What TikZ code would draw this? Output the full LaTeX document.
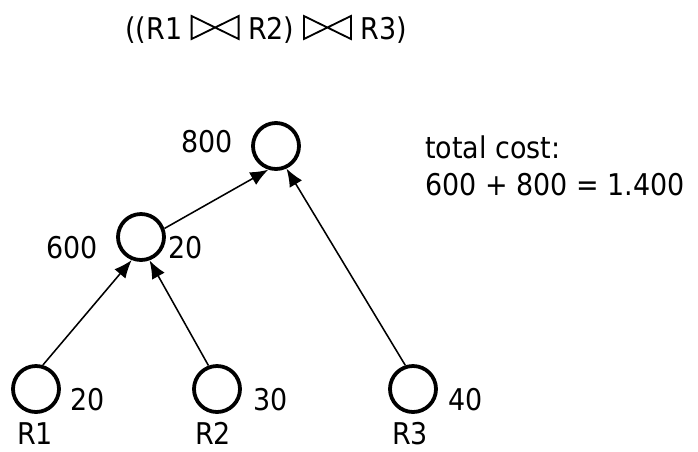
\documentclass[tikz,border=0pt]{standalone}
\usepackage{fontspec}
\setmainfont{DejaVu Sans Condensed}
\usetikzlibrary{arrows.meta}

% join symbol drawn as a small picture
\newcommand{\joinop}{\tikz[baseline=0pt, line width=1.3pt]\draw (0,0) -- (0,0.575) -- (1.175,0) -- (1.175,0.575) -- cycle;}

\begin{document}
\begin{tikzpicture}[
    rel/.style={circle, draw, line width=2.7pt, minimum size=1.15cm, inner sep=0pt},
    lbl/.style={inner sep=0pt, font=\fontsize{21.3}{26.5}\selectfont},
    relname/.style={lbl, anchor=base west, text depth=0pt},
    edge/.style={line width=1.1pt, -{Latex[length=0.45cm, width=0.36cm]}}
]
    \useasboundingbox (0,0) rectangle (17.45,-11.275);

    % Join order
    \node[lbl, anchor=base west] (title) at (3.125,-0.975) {((R1 \joinop{} R2) \joinop{} R3)};

    % Base relations
    \node[rel] (r1) at (0.90,-9.725) {};
    \node[rel] (r2) at (5.425,-9.725) {};
    \node[rel] (r3) at (10.325,-9.725) {};
    \node[relname] (r1name) at (0.425,-11.12) {R1};
    \node[relname] (r2name) at (4.875,-11.12) {R2};
    \node[relname] (r3name) at (9.80,-11.12) {R3};
    \node[lbl, anchor=base west] (r1size) at (1.75,-10.25) {20};
    \node[lbl, anchor=base west] (r2size) at (6.325,-10.25) {30};
    \node[lbl, anchor=base west] (r3size) at (11.20,-10.25) {40};

    % Joins
    \node[rel] (j1) at (3.525,-5.925) {};
    \node[rel] (j2) at (6.90,-3.65) {};
    \node[lbl, anchor=base east] (j1cost) at (2.45,-6.45) {600};
    \node[lbl, anchor=base west] (j1size) at (4.20,-6.45) {20};
    \node[lbl, anchor=base east] (j2cost) at (5.825,-3.80) {800};

    \draw[edge] (r1.74) -- (j1.248);
    \draw[edge] (r2.110) -- (j1.290);
    \draw[edge] (j1.20) -- (j2.252);
    \draw[edge] (r3.108) -- (j2.295);

    % Sum
    \node[lbl, anchor=base west] (cost) at (10.625,-3.95) {total cost:};
    \node[lbl, anchor=base west] (sum) at (10.625,-4.875) {600 + 800 = 1.400};
\end{tikzpicture}
\end{document}
